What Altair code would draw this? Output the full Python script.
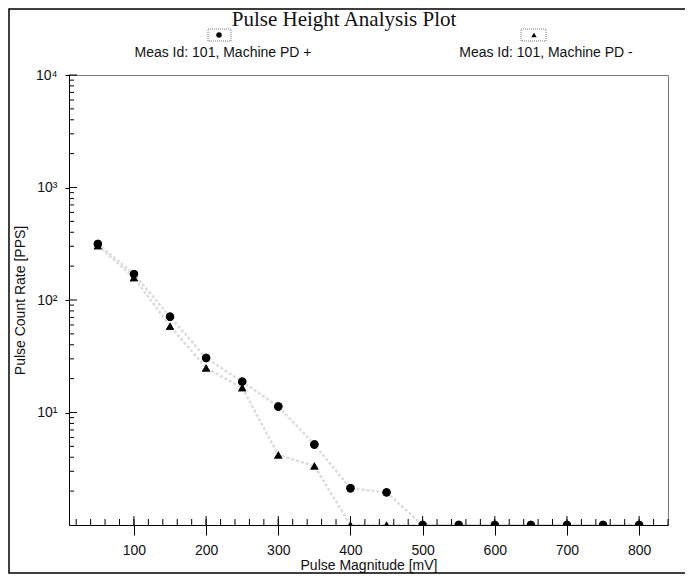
import altair as alt
import pandas as pd

# ---------------- data ----------------
magnitudes = [50, 100, 150, 200, 250, 300, 350, 400, 450, 500, 550, 600, 650, 700, 750, 800]
rate_pd_plus = [315, 170, 71, 30.5, 18.8, 11.3, 5.2, 2.12, 1.95, 1, 1, 1, 1, 1, 1, 1]
rate_pd_minus = [305, 158, 58.7, 24.9, 16.6, 4.2, 3.35, 1, 1, 1, 1, 1, 1, 1, 1, 1]
series_names = ["Meas Id: 101, Machine PD +", "Meas Id: 101, Machine PD -"]

x_major_ticks = [100, 200, 300, 400, 500, 600, 700, 800]
x_minor_ticks = [20, 40, 60, 80, 120, 140, 160, 180, 220, 240, 260, 280, 320, 340, 360, 380,
                 420, 440, 460, 480, 520, 540, 560, 580, 620, 640, 660, 680, 720, 740, 760, 780,
                 820, 840]
y_major_ticks = [10, 100, 1000, 10000]
y_major_labels = ["10¹", "10²", "10³", "10⁴"]
y_minor_ticks = [2, 3, 4, 5, 6, 7, 8, 9,
                 20, 30, 40, 50, 60, 70, 80, 90,
                 200, 300, 400, 500, 600, 700, 800, 900,
                 2000, 3000, 4000, 5000, 6000, 7000, 8000, 9000]

title_text = "Pulse Height Analysis Plot"
x_title = "Pulse Magnitude [mV]"
y_title = "Pulse Count Rate [PPS]"

# ---------------- tables ----------------
df = pd.DataFrame({
    "mag": magnitudes * 2,
    "rate": rate_pd_plus + rate_pd_minus,
    "series": [series_names[0]] * len(magnitudes) + [series_names[1]] * len(magnitudes),
})
df_xminor = pd.DataFrame({"mag": x_minor_ticks + x_major_ticks})
df_xmajor = pd.DataFrame({"mag": x_major_ticks})
df_yminor = pd.DataFrame({"rate": y_minor_ticks})
df_ymajor = pd.DataFrame({"rate": y_major_ticks})

W, H = 599, 450
FONT = "Liberation Sans"

xs = alt.Scale(domain=[10, 840], nice=False, zero=False)
ys = alt.Scale(type="log", domain=[1, 10000], nice=False)

label_expr = " : ".join(
    f"datum.value == {v} ? '{t}'" for v, t in zip(y_major_ticks, y_major_labels)
) + " : ''"

x_axis = alt.Axis(
    values=x_major_ticks, tickSize=10, tickColor="black", domainColor="black",
    labelFontSize=14, labelPadding=8, labelColor="#111", labelFont=FONT,
    title=x_title, titleFont=FONT, titleFontSize=14, titleFontWeight="normal",
    titleColor="#111", titlePadding=1, grid=False)
y_axis = alt.Axis(
    values=y_major_ticks, labelExpr=label_expr, tickSize=4, tickColor="black",
    domainColor="black", labelFontSize=14, labelPadding=8, labelColor="#111",
    labelFont=FONT, title=y_title, titleFont=FONT, titleFontSize=14,
    titleFontWeight="normal", titleColor="#111", titlePadding=8, grid=False)

X = alt.X("mag:Q", scale=xs, axis=x_axis)
Y = alt.Y("rate:Q", scale=ys, axis=y_axis)

lines = alt.Chart(df).mark_line(
    color="#dddddd", strokeWidth=2.5, strokeDash=[3, 2], clip=True
).encode(x=X, y=Y, detail="series:N")

points = alt.Chart(df).mark_point(filled=True, size=70, opacity=1, clip=True).encode(
    x=X, y=Y,
    shape=alt.Shape("series:N", scale=alt.Scale(domain=series_names,
                                                range=["circle", "triangle-up"]), legend=None),
    color=alt.value("black"),
)

x_minor = alt.Chart(df_xminor).mark_rule(color="black", strokeWidth=1).encode(
    x=X, y=alt.value(H), y2=alt.value(H - 6))
x_major = alt.Chart(df_xmajor).mark_rule(color="black", strokeWidth=1).encode(
    x=X, y=alt.value(H), y2=alt.value(H - 9))
y_minor = alt.Chart(df_yminor).mark_rule(color="black", strokeWidth=1).encode(
    y=Y, x=alt.value(0), x2=alt.value(5))
y_major = alt.Chart(df_ymajor).mark_rule(color="black", strokeWidth=1).encode(
    y=Y, x=alt.value(0), x2=alt.value(8))

# title
title = alt.Chart(pd.DataFrame({"t": [title_text]})).mark_text(
    font="Liberation Serif", fontSize=21, color="#111", align="center", baseline="middle"
).encode(text="t:N", x=alt.value(275), y=alt.value(-55))

# legend (symbol boxes above text, two columns)
leg = pd.DataFrame({"name": series_names})
box1 = alt.Chart(leg.iloc[[0]]).mark_rect(
    fill="white", stroke="#777", strokeDash=[1, 1], strokeWidth=1
).encode(x=alt.value(139), x2=alt.value(162), y=alt.value(-46), y2=alt.value(-34))
box2 = alt.Chart(leg.iloc[[1]]).mark_rect(
    fill="white", stroke="#777", strokeDash=[1, 1], strokeWidth=1
).encode(x=alt.value(452), x2=alt.value(477), y=alt.value(-46), y2=alt.value(-34))
sym1 = alt.Chart(leg.iloc[[0]]).mark_point(filled=True, size=30, shape="circle", color="black",
                                           opacity=1).encode(x=alt.value(150), y=alt.value(-40))
sym2 = alt.Chart(leg.iloc[[1]]).mark_point(filled=True, size=30, shape="triangle-up",
                                           color="black", opacity=1).encode(
    x=alt.value(465), y=alt.value(-40))
txt1 = alt.Chart(leg.iloc[[0]]).mark_text(
    font=FONT, fontSize=14, color="#111", align="center", baseline="middle"
).encode(text="name:N", x=alt.value(154), y=alt.value(-22))
txt2 = alt.Chart(leg.iloc[[1]]).mark_text(
    font=FONT, fontSize=14, color="#111", align="center", baseline="middle"
).encode(text="name:N", x=alt.value(477), y=alt.value(-22))

# outer frame of the figure
frame = alt.Chart(pd.DataFrame({"f": [0]})).mark_rect(
    fill=None, stroke="black", strokeWidth=1.5
).encode(x=alt.value(-60), x2=alt.value(621), y=alt.value(-66), y2=alt.value(498))

chart = alt.layer(
    points, lines, x_minor, x_major, y_minor, y_major, points,
    frame, title, box1, box2, sym1, sym2, txt1, txt2,
).properties(
    width=W, height=H,
    autosize=alt.AutoSizeParams(type="none"),
    padding={"left": 61, "top": 67, "right": 17, "bottom": 49},
    background="white",
).configure_view(stroke="#777", strokeWidth=1)

chart.save("out.html", embed_options={"renderer": "svg", "actions": False})
